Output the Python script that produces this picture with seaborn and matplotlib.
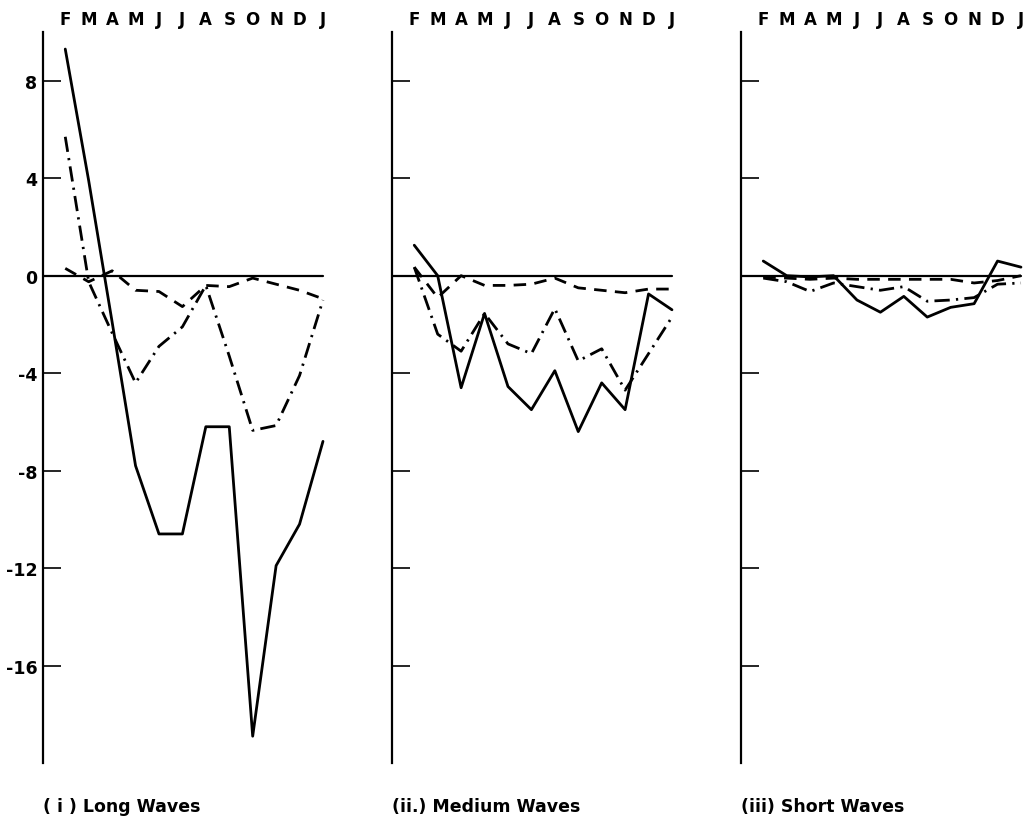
import matplotlib
matplotlib.use("Agg")
import matplotlib.pyplot as plt
import seaborn as sns
import numpy as np
import pandas as pd

# Month labels (February through January)
months = ["F", "M", "A", "M", "J", "J", "A", "S", "O", "N", "D", "J"]

# Long waves
long_solid = [9.3, 3.9, -1.9, -7.8, -10.6, -10.6, -6.2, -6.2, -18.9, -11.9, -10.2, -6.8]
long_dashdot = [5.7, -0.25, -2.35, -4.4, -2.9, -2.1, -0.4, -3.3, -6.35, -6.15, -4.1, -1.0]
long_dashed = [0.3, -0.25, 0.2, -0.6, -0.65, -1.27, -0.4, -0.45, -0.1, -0.35, -0.6, -0.95]

# Medium waves
medium_solid = [1.25, 0.0, -4.6, -1.55, -4.55, -5.5, -3.9, -6.4, -4.4, -5.5, -0.75, -1.4]
medium_dashdot = [0.35, -2.4, -3.1, -1.55, -2.8, -3.2, -1.35, -3.5, -3.0, -4.7, -3.2, -1.7]
medium_dashed = [0.35, -0.9, 0.0, -0.4, -0.4, -0.35, -0.1, -0.5, -0.6, -0.7, -0.55, -0.55]

# Short waves
short_solid = [0.6, 0.0, -0.05, 0.0, -1.0, -1.5, -0.85, -1.7, -1.3, -1.15, 0.6, 0.35]
short_dashdot = [-0.1, -0.25, -0.65, -0.3, -0.45, -0.6, -0.45, -1.05, -1.0, -0.9, -0.35, -0.3]
short_dashed = [-0.05, -0.1, -0.15, -0.1, -0.15, -0.15, -0.15, -0.15, -0.15, -0.3, -0.2, 0.0]

panel_titles = ["( i ) Long Waves", "(ii.) Medium Waves", "(iii) Short Waves"]
y_ticks = [8, 4, 0, -4, -8, -12, -16]
y_tick_labels = ["8", "4", "0", "-4", "-8", "-12", "-16"]

sns.set_theme(style="white")
plt.rcParams["font.family"] = ["DejaVu Sans"]
plt.rcParams["font.weight"] = "bold"
plt.rcParams["lines.scale_dashes"] = False

W, H = 1032, 820
fig = plt.figure(figsize=(W / 100, H / 100), dpi=100)
fig.patch.set_facecolor("white")

x_lo, x_hi = -0.95, 11.3
y_lo, y_hi = -20.0, 10.0

panel_left_px = [43, 392, 741]
ax_top_px, ax_bot_px = 33, 764
ax_w_px = 287

series = [
    (long_solid, long_dashdot, long_dashed),
    (medium_solid, medium_dashdot, medium_dashed),
    (short_solid, short_dashdot, short_dashed),
]

styles = {
    "solid": "-",
    "dashdot": (0, (11, 4.5, 1.6, 4.5)),
    "dashed": (0, (9, 6)),
}

x_idx = np.arange(len(months))

for i, (solid, dashdot, dashed) in enumerate(series):
    left = panel_left_px[i] / W
    bottom = (H - ax_bot_px) / H
    height = (ax_bot_px - ax_top_px) / H
    ax = fig.add_axes([left, bottom, ax_w_px / W, height])
    ax.set_facecolor("white")

    df = pd.DataFrame({
        "month": np.tile(x_idx, 3),
        "value": list(solid) + list(dashdot) + list(dashed),
        "kind": ["solid"] * 12 + ["dashdot"] * 12 + ["dashed"] * 12,
    })
    for kind, sub in df.groupby("kind", sort=False):
        sns.lineplot(data=sub, x="month", y="value", ax=ax, color="black",
                     linewidth=2.0, linestyle=styles[kind], sort=False,
                     estimator=None, legend=False)

    # zero reference line from the axis to the last month
    ax.axhline(0, xmin=0, xmax=(x_idx[-1] - x_lo) / (x_hi - x_lo),
               color="black", linewidth=1.6)

    ax.set_xlim(x_lo, x_hi)
    ax.set_ylim(y_lo, y_hi)

    for side in ["top", "right", "bottom"]:
        ax.spines[side].set_visible(False)
    ax.spines["left"].set_color("black")
    ax.spines["left"].set_linewidth(1.6)

    ax.xaxis.tick_top()
    ax.set_xticks(x_idx)
    ax.set_xticklabels(months, fontsize=12, fontweight="bold")
    ax.tick_params(axis="x", length=0, pad=3, colors="black")

    ax.set_yticks(y_ticks)
    if i == 0:
        ax.set_yticklabels(y_tick_labels, fontsize=12.5, fontweight="bold")
    else:
        ax.set_yticklabels([])
    ax.tick_params(axis="y", direction="in", length=13, width=1.2,
                   pad=4, colors="black", left=True)

    ax.set_xlabel("")
    ax.set_ylabel("")
    ax.grid(False)

    fig.text(panel_left_px[i] / W, (H - 807) / H, panel_titles[i],
             ha="left", va="center", fontsize=12.5, fontweight="bold",
             color="black")

fig.savefig("out.png", dpi=100, facecolor="white")
